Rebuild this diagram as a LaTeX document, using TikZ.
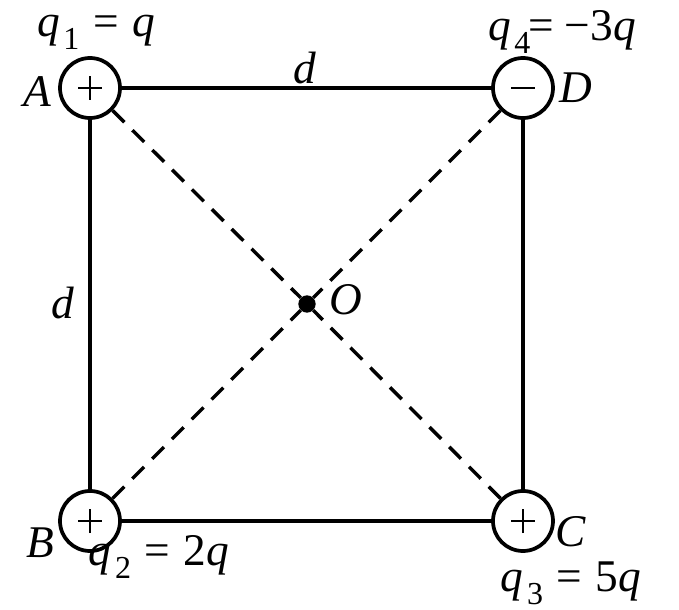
\documentclass[tikz,border=0pt]{standalone}
\usepackage{fontspec}
\setmainfont{Liberation Serif}
\begin{document}
\begin{tikzpicture}[x=0.75pt,y=-0.75pt,
  charge/.style={draw,circle,line width=2.8pt,minimum size=45pt,inner sep=0pt,fill=white},
  sign/.style={line width=1.2pt},
  edge/.style={line width=2.8pt},
  diag/.style={line width=2.6pt,dash pattern=on 12.5pt off 8.5pt},
  lab/.style={font=\fontsize{34}{36}\selectfont\itshape,inner sep=0pt}]
\useasboundingbox (0,0) rectangle (679,610);
\newcommand{\qs}[1]{\textit{q}\kern0.08em\raisebox{-0.28em}{\fontsize{24}{24}\selectfont\upshape #1}}
\newcommand{\eqs}{\hspace{0.3em}=\hspace{0.3em}}
\node[circle,fill=black,minimum size=13pt,inner sep=0pt] (O) at (307,304) {};
\node[charge] (A) at (90,88) {};
\node[charge] (D) at (523,88) {};
\node[charge] (B) at (90,521) {};
\node[charge] (C) at (523,521) {};
\foreach \n in {A,B,C}{
  \draw[sign] ([xshift=-9pt]\n.center) -- ([xshift=9pt]\n.center);
  \draw[sign] ([yshift=-9pt]\n.center) -- ([yshift=9pt]\n.center);
}
\draw[sign] ([xshift=-9pt]D.center) -- ([xshift=9pt]D.center);
\draw[edge] (A) -- (D);
\draw[edge] (D) -- (C);
\draw[edge] (C) -- (B);
\draw[edge] (B) -- (A);
\draw[diag] (A) -- (O);
\draw[diag] (C) -- (O);
\draw[diag] (B) -- (O);
\draw[diag] (D) -- (O);
\node[lab] (lA) at (37,92) {A};
\node[lab] (lD) at (576,88) {D};
\node[lab] (lB) at (40,543) {B};
\node[lab] (lC) at (571,532) {C};
\node[lab] (lO) at (346,300) {O};
\node[lab] (d1) at (305,68) {d};
\node[lab] (d2) at (63,303) {d};
\node[lab,font=\fontsize{34}{36}\selectfont] (q1) at (96,32) {\qs{1}\eqs\textit{q}};
\node[lab,font=\fontsize{34}{36}\selectfont] (q4) at (562,32) {\qs{4}\kern-0.05em= −3\textit{q}};
\node[lab,font=\fontsize{34}{36}\selectfont] (q2) at (159,557) {\qs{2}\eqs 2\textit{q}};
\node[lab,font=\fontsize{34}{36}\selectfont] (q3) at (571,583) {\qs{3}\eqs 5\textit{q}};
\end{tikzpicture}
\end{document}
